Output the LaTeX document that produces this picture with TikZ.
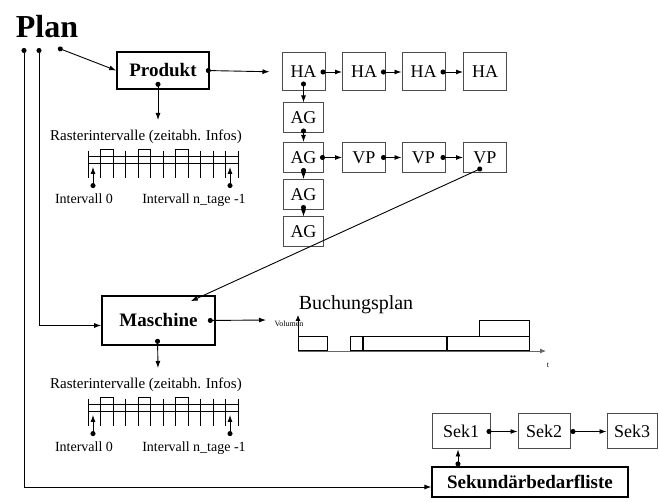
\documentclass[tikz,border=0pt]{standalone}
\usepackage{fontspec}
\setmainfont{Liberation Serif}
\usetikzlibrary{arrows.meta}

\begin{document}
\begin{tikzpicture}[x=1pt, y=-1pt, >={Latex[length=6pt,width=5pt]},
  box/.style={draw=black!70, line width=1pt, inner sep=0pt, font=\fontsize{18}{18}\selectfont},
  bigbox/.style={draw, line width=1.6pt, inner sep=0pt, font=\fontsize{19}{19}\selectfont\bfseries},
  con/.style={{Circle[length=5pt]}-{Latex[length=7pt,width=5pt]}, line width=0.9pt},
  smalltxt/.style={inner sep=0pt, font=\fontsize{14}{14}\selectfont}]
\useasboundingbox (0,0) rectangle (659,502);
% title and the plan dots
\node[font=\fontsize{32}{32}\selectfont\bfseries, anchor=base] (plan) at (47,38) {Plan};
\coordinate (p1) at (24,48);
\coordinate (p2) at (39,48);
\coordinate (p3) at (58,48);
% main objects
\node[bigbox, minimum width=92pt, minimum height=37pt] (prod) at (163,70.5) {Produkt};
\node[bigbox, minimum width=113pt, minimum height=49pt] (mas) at (158.5,320.5) {Maschine};
\node[bigbox, line width=1.2pt, minimum width=196pt, minimum height=30pt] (list) at (530,482) {Sekundärbedarfliste};
% HA row
\foreach \i/\x in {1/303.5,2/364,3/423.5,4/485}
  \node[box, minimum width=43pt, minimum height=38pt] (ha\i) at (\x,72) {HA};
% AG column
\foreach \i/\y in {1/118,2/157.5,3/194.5,4/232}
  \node[box, minimum width=40pt, minimum height=30pt] (ag\i) at (303.5,\y) {AG};
% VP row
\foreach \i/\x in {1/364,2/423.5,3/485}
  \node[box, minimum width=43pt, minimum height=30pt] (vp\i) at (\x,157.5) {VP};
% Sek row
\node[box, minimum width=58pt, minimum height=35pt] (sek1) at (461,431.5) {Sek1};
\node[box, minimum width=52pt, minimum height=35pt] (sek2) at (544,431.5) {Sek2};
\node[box, minimum width=50pt, minimum height=35pt] (sek3) at (632,431.5) {Sek3};
% raster intervals below Produkt and Maschine
\foreach \k/\dy in {1/0,2/248}{
  \begin{scope}[shift={(0,\dy)}]
    \node[smalltxt, font=\fontsize{15}{15}\selectfont] (rt\k) at (146,137) {Rasterintervalle (zeitabh. Infos)};
    \coordinate (rin\k) at (158,120);
    \draw[line width=0.8pt] (88,156) -- (238,156) (88,163) -- (238,163);
    \foreach \t in {0,...,12}
      \draw[line width=0.8pt] (88+12.5*\t,151) -- (88+12.5*\t,178);
    \foreach \a/\b in {100.5/113,138/150.5,175.5/188}
      \draw[line width=0.8pt] (\a,156) -- (\a,149) -- (\b,149) -- (\b,156);
    \node[smalltxt, anchor=base] (lo\k) at (84,204) {Intervall 0};
    \node[smalltxt, anchor=base] (hi\k) at (194,204) {Intervall n\_tage -1};
    \coordinate (f\k) at (93,167);
    \coordinate (l\k) at (230,167);
    \draw[con] ([xshift=9pt,yshift=6pt]lo\k.north) -- (f\k);
    \draw[con] ([xshift=36pt,yshift=6pt]hi\k.north) -- (l\k);
  \end{scope}
}
% Buchungsplan
\node[inner sep=0pt, font=\fontsize{20}{20}\selectfont] (bp) at (356,305) {Buchungsplan};
\node[inner sep=0pt, font=\fontsize{8}{8}\selectfont] (vol) at (289,324) {Volumen};
\node[inner sep=0pt, font=\fontsize{8}{8}\selectfont] (tlab) at (548,365) {t};
\coordinate (o) at (298,351);
\coordinate (ytop) at (298,315);
\coordinate (xend) at (546,351);
\coordinate (bpin) at (266,320);
\draw[->, black!60, line width=0.9pt] (o) -- (xend);
\draw[->, line width=0.9pt] (o) -- (ytop);
\draw[line width=1pt] (298,337) rectangle (327,351) (350,337) rectangle (529,351)
  (479,321) rectangle (529,337);
\draw[line width=2pt] (363,337) -- (363,351) (447,337) -- (447,351);
% connectors
\draw[con] (p3) -- (prod.west);
\draw[con] (p2) |- ([yshift=-5pt]mas.west);
\draw[con] (p1) |- ([yshift=-5pt]list.west);
\draw[con, shorten >=12pt] ([xshift=-4pt]prod.east) -- (ha1.west);
\foreach \i/\j in {1/2,2/3,3/4}
  \draw[con] ([xshift=-5pt]ha\i.east) -- (ha\j.west);
\draw[con] ([yshift=10pt]ha1.south) -- (ag1.north);
\foreach \i/\j in {1/2,2/3,3/4}
  \draw[con] ([yshift=5pt]ag\i.south) -- (ag\j.north);
\draw[con] ([xshift=-4pt]ag2.east) -- (vp1.west);
\foreach \i/\j in {1/2,2/3}
  \draw[con] ([xshift=-5pt]vp\i.east) -- (vp\j.west);
\draw[con] ([xshift=-3pt,yshift=5pt]vp3.south) -- ([xshift=-25pt,yshift=-6pt]mas.north east);
\draw[con] ([xshift=-5pt,yshift=8pt]prod.south) -- (rin1);
\draw[con] ([xshift=-1pt,yshift=7pt]mas.south) -- (rin2);
\draw[con] ([xshift=-8pt]mas.east) -- (bpin);
\draw[con] ([xshift=-4pt]sek1.east) -- (sek2.west);
\draw[con] (sek2.east) -- (sek3.west);
\draw[con] ([xshift=-72pt]list.north) -- ([xshift=-3pt]sek1.south);
\end{tikzpicture}
\end{document}
